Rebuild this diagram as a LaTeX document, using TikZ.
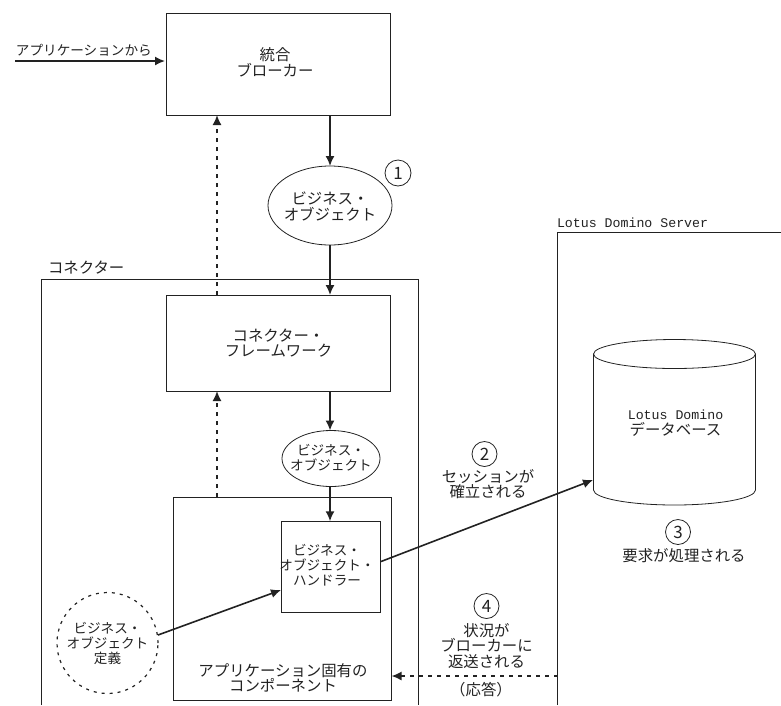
\documentclass[tikz,border=0pt]{standalone}
\usepackage{fontspec}
\usetikzlibrary{arrows.meta,shapes.geometric}
\setmainfont{Noto Sans CJK JP}
\newfontfamily\monof{Liberation Mono}
\definecolor{ink}{HTML}{222222}
\tikzset{
  x=1pt,y=-1pt,
  every node/.style={inner sep=0pt,outer sep=0pt,text=ink,align=center,font=\fontsize{15.4}{15.5}\selectfont},
  small/.style={font=\fontsize{13.6}{14.8}\selectfont},
  boxshape/.style={draw=ink,line width=0.9pt,rectangle},
  oval/.style={draw=ink,line width=0.8pt,ellipse},
  outline/.style={draw=ink,line width=0.9pt},
  num/.style={draw=ink,line width=0.8pt,circle,minimum size=25pt,font=\fontsize{17}{17}\selectfont},
  flow/.style={draw=ink,line width=1.6pt,-{Latex[length=10pt,width=9pt]}},
  back/.style={flow,dash pattern=on 4pt off 5pt},
}
\begin{document}
\begin{tikzpicture}
\useasboundingbox (0,0) rectangle (781,705);
% containers
\draw[outline] (41,705) -- (41,279) -- (418,279) -- (418,705);
\draw[outline] (557.5,705) -- (557.5,232) -- (781,232);
\node[anchor=west] (lconn) at (48,268) {コネクター};
\node[anchor=west,font=\monof\fontsize{13.25}{15}\selectfont] (lsrv) at (557,222.5) {Lotus Domino Server};
% boxes
\node[boxshape,minimum width=223.5pt,minimum height=102pt] (broker) at (278.5,64) {};
\node (brokertext) at (275,62.5) {統合\\ブローカー};
\node[boxshape,minimum width=223.5pt,minimum height=96pt] (frame) at (278.5,343) {コネクター・\\フレームワーク};
\node[boxshape,minimum width=217.5pt,minimum height=203pt] (comp) at (282.5,598.5) {};
\node[boxshape,minimum width=99pt,minimum height=91.5pt] (handler) at (330.5,567) {};
\node[small] (handlertext) at (327,565) {ビジネス・\\オブジェクト・\\ハンドラー};
\node (comptext) at (283,678) {アプリケーション固有の\\コンポーネント};
% ovals
\node[oval,minimum width=124pt,minimum height=79pt] (bo1) at (330,205.5) {};
\node (bo1text) at (330,206.5) {ビジネス・\\オブジェクト};
\node[oval,minimum width=98pt,minimum height=56pt] (bo2) at (331,458.5) {};
\node[small] (bo2text) at (331,458) {ビジネス・\\オブジェクト};
\node[circle,draw=ink,line width=1.2pt,dash pattern=on 3pt off 5pt,minimum size=101pt] (def) at (107.5,643) {};
\node[small] (deftext) at (107.5,643.5) {ビジネス・\\オブジェクト\\定義};
% database
\draw[outline,line width=0.8pt] (593.5,354) arc[start angle=180,end angle=-180,x radius=81,y radius=14.5];
\draw[outline,line width=0.8pt] (593.5,354) -- (593.5,490) arc[start angle=180,end angle=0,x radius=81,y radius=15] -- (755.5,354);
\node (dbtext) at (675.5,423) {{\monof\fontsize{13.25}{15}\selectfont Lotus Domino}\\データベース};
\coordinate (dbin) at (593,480);
% numbered labels
\node[num,minimum size=26pt] (n1) at (398,173) {1};
\node[num] (n2) at (484.5,454) {2};
\node (t2) at (488,484) {セッションが\\確立される};
\node[num] (n3) at (678,532) {3};
\node (t3) at (684,556) {要求が処理される};
\node[num] (n4) at (486.5,606) {4};
\node (t4) at (486.5,646) {状況が\\ブローカーに\\返送される};
\node (t5) at (481,690) {（応答）};
% inbound
\coordinate (appstart) at (15,61);
\coordinate (append) at (165,61);
\node[small,anchor=west] (lapp) at (16,50) {アプリケーションから};
\draw[flow] (appstart) -- (append);
% flows
\draw[flow] (broker.south -| bo1) -- (bo1.north);
\draw[flow] (bo1.south) -- (frame.north -| bo1);
\draw[flow] (frame.south -| bo1) -- (bo2.north -| bo1);
\draw[flow] (bo2.south -| bo1) -- (handler.north -| bo1);
\coordinate (dashx) at (217,0);
\draw[back] (frame.north -| dashx) -- (broker.south -| dashx);
\draw[back] (comp.north -| dashx) -- (frame.south -| dashx);
\coordinate (defout) at (158,635);
\coordinate (hin) at (281,590);
\draw[flow] (defout) -- (hin);
\coordinate (hout) at (381,561.5);
\draw[flow] (hout) -- (dbin);
\coordinate (srvret) at (557.5,676);
\coordinate (compret) at (391.5,676);
\draw[back] (srvret) -- (compret);
\end{tikzpicture}
\end{document}
